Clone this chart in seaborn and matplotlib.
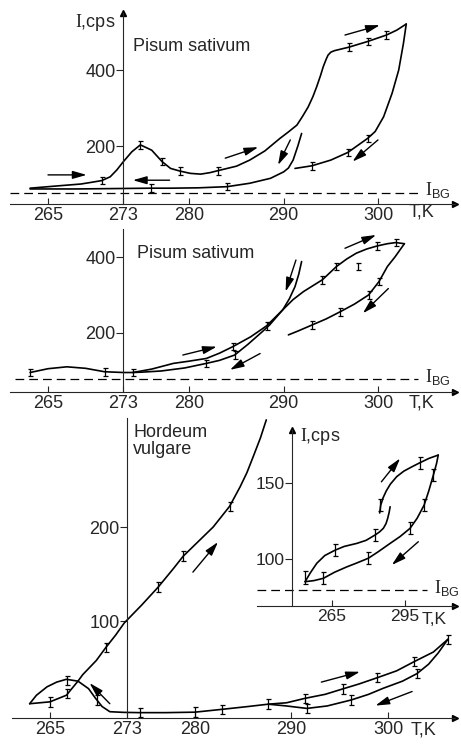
import matplotlib
matplotlib.use("Agg")
import matplotlib.pyplot as plt
import seaborn as sns

# ---- data (T in K, I in cps) ----
# panel 1, Pisum sativum
heat1_T = [263.1, 266.0, 268.5, 269.5, 270.7, 271.6, 272.3, 273.0, 273.9, 274.8, 276.0, 277.1, 278.0,
           279.0, 280.1, 281.2, 282.2, 283.0, 285.0, 286.4, 288.0, 289.6, 290.5, 291.4, 292.0, 292.6,
           293.1, 293.5, 293.9, 294.2, 294.5, 294.7, 295.0, 295.4, 296.9, 298.9, 300.9, 302.0, 303.0]
heat1_I = [89, 95, 100, 104, 109, 119, 137, 159, 185, 203, 189, 159, 141,
           134, 128, 126, 130, 135, 147, 163, 187, 220, 237, 255, 278, 303,
           330, 356, 385, 409, 428, 439, 447, 451, 460, 475, 492, 505, 521]
cool1a_T = [303.0, 302.7, 302.2, 301.5, 300.6, 299.7, 298.9, 296.8, 295.0, 293.0, 291.2]
cool1a_I = [521, 470, 400, 339, 277, 238, 220, 183, 163, 148, 141]
cool1b_T = [291.9, 291.5, 291.0, 290.5, 290.0, 288.6, 286.4, 284.0, 281.0, 278.0, 275.9, 272.0, 268.0, 263.1]
cool1b_I = [233, 200, 163, 142, 132, 115, 102, 93, 90, 89, 89, 88, 87, 87]
eb1_T = [270.7, 274.8, 277.1, 279.0, 283.0, 296.9, 298.9, 300.9, 298.9, 296.8, 293.0, 284.0, 275.9]
eb1_I = [109, 203, 159, 134, 135, 460, 475, 492, 220, 183, 148, 93, 89]
arrows1 = [((265.0, 124), (269.1, 124)), ((277.9, 110), (274.0, 110)),
           ((283.8, 168), (287.3, 197)), ((290.7, 216), (289.4, 150)),
           ((296.5, 492), (300.2, 518)), ((300.0, 216), (297.3, 159))]

# panel 2, Pisum sativum
heat2_T = [263.1, 265, 267, 269, 271.0, 273, 274, 276, 278.3, 280, 281.8, 283.2, 284.6, 286.5,
           288.2, 289.9, 291.0, 292.1, 294.1, 295.6, 296.7, 297.7, 298.8, 299.9, 301.0, 301.9, 302.8]
heat2_I = [96, 106, 111, 107, 98, 96, 96, 105, 120, 126, 133, 147, 164, 190,
           219, 261, 288, 309, 340, 375, 395, 410, 421, 429, 435, 438, 435]
cool2a_T = [291.9, 291.6, 291.2, 290.6, 289.9, 288.5, 287.8, 286.2, 284.8, 283.2, 281.8, 279.5, 277, 275, 274]
cool2a_I = [388, 355, 322, 290, 261, 221, 205, 170, 142, 128, 120, 108, 100, 97, 96]
cool2b_T = [302.8, 301.8, 301.0, 300.1, 299.0, 297.5, 296.0, 294.5, 293.0, 291.5, 290.5]
cool2b_I = [435, 400, 375, 335, 300, 276, 256, 237, 221, 205, 195]
eb2_T = [263.1, 271.0, 274.0, 281.8, 284.6, 284.8, 288.2, 294.1, 295.6, 297.9, 299.9, 301.9,
         300.1, 299.0, 296.0, 293.0]
eb2_I = [96, 98, 96, 120, 164, 142, 219, 340, 375, 375, 429, 438, 335, 300, 256, 221]
arrows2 = [((296.5, 423), (299.8, 458)), ((291.3, 392), (290.2, 309)),
           ((301.1, 317), (298.4, 252)), ((279.3, 142), (282.9, 164)),
           ((287.5, 146), (284.3, 103))]

# panel 3, Hordeum vulgare
rise3_T = [262.9, 265.0, 266.7, 267.9, 268.4, 269.8, 270.8, 271.8, 272.7, 274.5, 276.2, 277.8,
           278.8, 280.2, 281.9, 283.6, 284.7, 285.4, 286.05, 286.8, 287.4]
rise3_I = [12, 14, 21, 36, 43, 58, 72, 85, 98, 117, 136, 156,
           169, 183, 200, 222, 243, 258, 275, 295, 314]
loop3_T = [262.9, 263.6, 264.7, 265.7, 266.7, 267.9, 269.0, 269.7, 270.4, 271.2, 272.6, 274.3,
           277.0, 280.0, 282.8, 285.5, 287.6, 289.5, 291.4, 293.5, 295.3, 297.0, 298.9, 300.9,
           302.7, 304.7, 306.2]
loop3_I = [12, 21, 30, 35, 38, 36, 28, 18, 9, 3.5, 2.8, 2.5, 2.5, 3, 6, 9, 11.5, 13, 17.7, 22,
           27.7, 33, 39.7, 47, 56.7, 67, 80.5]
cool3_T = [306.2, 305.2, 304.2, 303.0, 301.5, 299.5, 298.0, 296.2, 293.7, 291.6, 289.5, 287.6]
cool3_I = [80.5, 66, 54, 44, 36, 28.4, 22, 16, 9.6, 7, 9.6, 11.5]
eb3_T = [265.0, 266.8, 266.8, 269.9, 270.8, 276.2, 278.8, 283.6, 274.3, 280.0, 282.8, 287.6,
         291.4, 295.3, 298.9, 302.7, 306.2, 303.0, 296.2, 291.6]
eb3_I = [14, 23, 37, 16, 72, 136, 169, 222, 2.5, 3, 6, 11.5, 17.7, 27.7, 39.7, 56.7, 80.5, 44, 16, 7]
arrows3 = [((279.8, 152), (282.4, 184)), ((293.1, 35), (297.1, 46)),
           ((302.5, 25), (298.7, 10)), ((271.2, 12), (269.1, 34))]

# inset
insa_T = [253.9, 256, 258.7, 262, 266.2, 270, 275.2, 279, 282.7, 284.5, 286.1, 287.2, 287.9, 288.5, 288.9]
insa_I = [85.3, 91, 97.4, 102.5, 106, 108.5, 110.5, 112.5, 116, 118, 120.4, 123.5, 127, 131, 134.6]
insb_T = [284.6, 285.0, 286.0, 287.3, 289.0, 291.6, 294.5, 298.0, 301.2, 305.0, 308.7]
insb_I = [130.5, 135.5, 140.5, 145, 149.5, 154.4, 158, 161, 163.6, 166.5, 168.6]
insc_T = [308.7, 308.0, 306.7, 304.8, 302.9, 300.0, 297.1, 293.0, 288.9, 284.0, 279.9, 275.0,
          271.0, 266.0, 261.4, 257.5, 253.9]
insc_I = [168.6, 163, 155.5, 145, 135.7, 127, 120.4, 115, 110.5, 105, 100.7, 97.5,
          95, 91.5, 87.5, 86, 85.3]
ebi_T = [253.9, 261.4, 266.2, 279.9, 282.7, 284.8, 301.2, 306.7, 302.9, 297.1]
ebi_I = [88, 87.5, 106, 100.7, 116, 135.5, 163.6, 155.5, 135.7, 120.4]
arrows_in = [((285.3, 151), (293.0, 166.4)), ((300.5, 111.6), (289.6, 96.3))]

sns.set_style("ticks")
plt.rcParams['font.family'] = ['Liberation Sans Narrow', 'Liberation Sans', 'DejaVu Sans']
plt.rcParams['mathtext.fontset'] = 'custom'
plt.rcParams['mathtext.rm'] = 'Liberation Serif'
plt.rcParams['mathtext.sf'] = 'Liberation Sans'
plt.rcParams['axes.linewidth'] = 0.8

W, H = 461, 744
fig = plt.figure(figsize=(W / 100, H / 100), dpi=100)


def add_ax(l, t, r, b):
    ax = fig.add_axes([l / W, 1 - b / H, (r - l) / W, (b - t) / H])
    ax.patch.set_visible(False)
    return ax


def setup(ax, xlim, ylim, x0, xticks, yticks, yarrow=False, fs=13):
    ax.set_xlim(xlim)
    ax.set_ylim(ylim)
    for s in ['top', 'right']:
        ax.spines[s].set_visible(False)
    ax.spines['left'].set_position(('data', x0))
    ax.set_xticks(xticks)
    ax.set_yticks(yticks)
    ax.tick_params(axis='x', direction='in', length=4, width=0.8, pad=2, labelsize=fs)
    ax.tick_params(axis='y', direction='out', length=5, width=0.8, pad=0.5, labelsize=fs)
    ax.plot(1, ylim[0], '>k', ms=5, transform=ax.get_yaxis_transform(), clip_on=False)
    if yarrow:
        ax.plot(x0, 1, '^k', ms=5, transform=ax.get_xaxis_transform(), clip_on=False)
    ax.set_xlabel('')
    ax.set_ylabel('')


def curve(ax, T, I):
    sns.lineplot(x=T, y=I, sort=False, estimator=None, color='k', lw=1.2, ax=ax)


def ebars(ax, T, I, e):
    ax.errorbar(T, I, yerr=e, fmt='none', ecolor='k', elinewidth=0.9, capsize=1.8, capthick=0.9)


def arrows(ax, lst):
    for tail, head in lst:
        ax.annotate('', xy=head, xytext=tail,
                    arrowprops=dict(arrowstyle='-|>,head_length=0.7,head_width=0.2',
                                    color='k', lw=1.0, shrinkA=0, shrinkB=0, mutation_scale=12))


def ibg(ax, x1, x2, y, fs=13):
    ax.plot([x1, x2], [y, y], color='k', lw=0.9, ls=(0, (7, 4)))
    ax.annotate(r'$\mathrm{I}_{\mathsf{BG}}$', xy=(x2, y), xytext=(5, 2), textcoords='offset points',
                ha='left', va='center', fontsize=fs)


# panel 1
ax1 = add_ax(10, 13, 455, 204)
setup(ax1, (260.97, 308.17), (47.4, 550), 273, [265, 273, 280, 290, 300], [200, 400], yarrow=True)
for T, I in [(heat1_T, heat1_I), (cool1a_T, cool1a_I), (cool1b_T, cool1b_I)]:
    curve(ax1, T, I)
ebars(ax1, eb1_T, eb1_I, 10)
arrows(ax1, arrows1)
ibg(ax1, 261.0, 304.2, 76)
ax1.text(274.0, 463, 'Pisum sativum', fontsize=13, va='center')
ax1.text(272.2, 524, r'$\mathrm{I}$,cps', fontsize=13, va='center', ha='right')
ax1.text(303.3, 26, 'T,K', fontsize=13, va='center')

# panel 2
ax2 = add_ax(10, 229, 455, 392)
setup(ax2, (260.97, 308.17), (44.7, 473.7), 273, [265, 273, 280, 290, 300], [200, 400])
for T, I in [(heat2_T, heat2_I), (cool2a_T, cool2a_I), (cool2b_T, cool2b_I)]:
    curve(ax2, T, I)
ebars(ax2, eb2_T, eb2_I, 10)
arrows(ax2, arrows2)
ibg(ax2, 261.5, 304.2, 78)
ax2.text(274.4, 410, 'Pisum sativum', fontsize=13, va='center')
ax2.text(303.3, 16, 'T,K', fontsize=13, va='center')

# panel 3
ax3 = add_ax(12, 418, 455, 718)
setup(ax3, (261.07, 306.94), (-3.2, 316), 273, [265, 273, 280, 290, 300], [100, 200])
for T, I in [(rise3_T, rise3_I), (loop3_T, loop3_I), (cool3_T, cool3_I)]:
    curve(ax3, T, I)
ebars(ax3, eb3_T, eb3_I, 5)
arrows(ax3, arrows3)
ax3.text(273.6, 292, 'Hordeum\nvulgare', fontsize=13, va='center', linespacing=1.0)
ax3.text(302.3, -16, 'T,K', fontsize=13, va='center')

# inset
axi = add_ax(257, 430, 455, 606)
setup(axi, (234.1, 315.6), (69.3, 185.1), 248.5, [265, 295], [100, 150], yarrow=True, fs=12.5)
for T, I in [(insa_T, insa_I), (insb_T, insb_I), (insc_T, insc_I)]:
    curve(axi, T, I)
ebars(axi, ebi_T, ebi_I, 4)
arrows(axi, arrows_in)
ibg(axi, 234.1, 304.1, 79.5)
axi.text(251.8, 180.5, r'$\mathrm{I}$,cps', fontsize=13, va='center')
axi.text(302.0, 60.5, 'T,K', fontsize=12.5, va='center')

fig.savefig('out.png', dpi=100)
